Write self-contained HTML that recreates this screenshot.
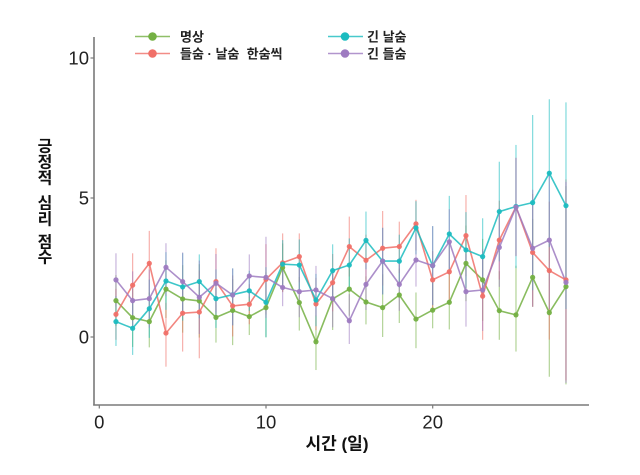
<!DOCTYPE html>
<html><head><meta charset="utf-8">
<style>
html,body{margin:0;padding:0;background:#fff;}
svg{display:block;}
text{font-family:"Liberation Sans","Noto Sans CJK KR",sans-serif;}
.kr{font-family:"Liberation Sans","Noto Sans CJK KR",sans-serif;font-weight:bold;}
</style></head>
<body>
<svg id="s" width="640" height="475" viewBox="0 0 640 475" xmlns="http://www.w3.org/2000/svg">
<rect width="640" height="475" fill="#fff"/>
<!-- axes -->
<line x1="94" y1="37" x2="94" y2="405.5" stroke="#7a7a7a" stroke-width="1.6"/>
<line x1="93.2" y1="405" x2="589" y2="405" stroke="#7a7a7a" stroke-width="1.6"/>
<!-- y ticks -->
<line x1="90.5" y1="58" x2="94" y2="58" stroke="#7a7a7a" stroke-width="1.2"/>
<line x1="90.5" y1="198" x2="94" y2="198" stroke="#7a7a7a" stroke-width="1.2"/>
<line x1="90.5" y1="337" x2="94" y2="337" stroke="#7a7a7a" stroke-width="1.2"/>
<!-- x ticks -->
<line x1="99.3" y1="405" x2="99.3" y2="408.5" stroke="#7a7a7a" stroke-width="1.2"/>
<line x1="266" y1="405" x2="266" y2="408.5" stroke="#7a7a7a" stroke-width="1.2"/>
<line x1="432.7" y1="405" x2="432.7" y2="408.5" stroke="#7a7a7a" stroke-width="1.2"/>
<!-- tick labels -->
<text x="89" y="64.5" font-size="18.5" text-anchor="end" fill="#222">10</text>
<text x="89" y="204.5" font-size="18.5" text-anchor="end" fill="#222">5</text>
<text x="89" y="343.5" font-size="18.5" text-anchor="end" fill="#222">0</text>
<text x="99.3" y="428.5" font-size="18.5" text-anchor="middle" fill="#222">0</text>
<text x="266" y="428.5" font-size="18.5" text-anchor="middle" fill="#222">10</text>
<text x="432.7" y="428.5" font-size="18.5" text-anchor="middle" fill="#222">20</text>
<!-- axis titles -->
<text class="kr" x="337" y="449.5" font-size="17" text-anchor="middle" fill="#111">시간 (일)</text>
<g class="kr" font-size="16" text-anchor="middle" fill="#111">
<text x="45" y="151.5">긍</text>
<text x="45" y="167.5">정</text>
<text x="45" y="183.5">적</text>
<text x="45" y="208.5">심</text>
<text x="45" y="224.5">리</text>
<text x="45" y="247.5">점</text>
<text x="45" y="262.5">수</text>
</g>
<!-- legend -->
<g>
<line x1="135" y1="36.5" x2="170" y2="36.5" stroke="#74b043" stroke-width="1.5" opacity="0.8"/>
<circle cx="152.5" cy="36.5" r="4.3" fill="#74b043"/>
<line x1="135" y1="53.5" x2="170" y2="53.5" stroke="#f07068" stroke-width="1.5" opacity="0.8"/>
<circle cx="152.5" cy="53.5" r="4.3" fill="#f07068"/>
<line x1="328" y1="36.5" x2="363" y2="36.5" stroke="#1bbcc0" stroke-width="1.5" opacity="0.8"/>
<circle cx="345" cy="36.5" r="4.3" fill="#1bbcc0"/>
<line x1="328" y1="53.5" x2="363" y2="53.5" stroke="#9e7bc1" stroke-width="1.5" opacity="0.8"/>
<circle cx="345" cy="53.5" r="4.3" fill="#9e7bc1"/>
<text class="kr" x="180" y="41.5" font-size="13" fill="#222">명상</text>
<text class="kr" x="180" y="58.5" font-size="13" fill="#222">들숨 · 날숨&#160; 한숨씩</text>
<text class="kr" x="367" y="41.5" font-size="13" fill="#222">긴 날숨</text>
<text class="kr" x="367" y="58.5" font-size="13" fill="#222">긴 들숨</text>
</g>
<g id="data"></g>
</svg>
<script>
(function(){
var G=[1.30,0.69,0.55,1.71,1.36,1.29,0.70,0.95,0.73,1.05,2.48,1.23,-0.17,1.36,1.71,1.25,1.05,1.50,0.64,0.96,1.24,2.63,2.04,0.94,0.79,2.13,0.87,1.80];
var R=[0.81,1.85,2.63,0.14,0.85,0.89,1.98,1.11,1.17,2.06,2.65,2.87,1.18,1.94,3.23,2.74,3.17,3.23,4.04,2.04,2.33,3.62,1.46,3.46,4.65,3.02,2.37,2.04];
var T=[0.55,0.31,1.01,2.00,1.79,1.98,1.37,1.51,1.65,1.24,2.60,2.57,1.32,2.37,2.57,3.45,2.71,2.71,3.90,2.55,3.68,3.11,2.87,4.48,4.66,4.80,5.85,4.69];
var P=[2.04,1.30,1.37,2.49,1.98,1.42,1.92,1.50,2.18,2.13,1.77,1.62,1.68,1.37,0.58,1.88,2.71,1.88,2.75,2.55,3.40,1.62,1.68,3.20,4.64,3.17,3.46,1.95];
var TOP=[2.99,2.99,3.79,3.35,3.02,2.95,3.17,2.45,2.95,3.58,3.7,3.7,2.54,3.31,4.3,4.48,4.5,4.12,4.9,3.96,5.04,5.07,4.24,6.26,6.86,7.93,8.49,8.38];
var BOT=[-0.32,-0.64,-0.37,-1.06,-0.52,-0.76,-0.2,-0.29,0.07,-0.01,1.1,0.23,-1.18,0.25,-0.25,0.45,0,0.5,-0.4,0.31,0.27,0.37,-0.1,-0.1,-0.52,1.08,-1.42,-1.69];
var S=[[G,"#74b043"],[R,"#f07068"],[T,"#1bbcc0"],[P,"#9e7bc1"]];
function X(d){return 99.3+16.667*d;}
function Y(v){return 337-28*v;}
var ns="http://www.w3.org/2000/svg",g=document.getElementById("data");
function el(n,a){var e=document.createElementNS(ns,n);for(var k in a)e.setAttribute(k,a[k]);g.appendChild(e);return e;}
var lo=[[],[],[],[]],hi=[[],[],[],[]];
for(var i=0;i<28;i++){
 var vals=S.map(function(s){return s[0][i];});
 var mx=Math.max.apply(null,vals),mn=Math.min.apply(null,vals);
 var ht=TOP[i]-mx,hb=mn-BOT[i],avg=(ht+hb)/2;
 for(var s=0;s<4;s++){
  var v=vals[s],h1=avg,h2=avg;
  if(v===mx){h1=ht;h2=Math.max(ht,avg);}
  if(v===mn){h2=hb;h1=Math.max(hb*0.9,avg);}
  hi[s][i]=Math.min(v+h1,TOP[i]);lo[s][i]=Math.max(v-h2,BOT[i]);
 }
}
for(var s=0;s<4;s++){
 for(var i=0;i<28;i++){
  el("line",{x1:X(i+1),x2:X(i+1),y1:Y(hi[s][i]),y2:Y(lo[s][i]),stroke:S[s][1],"stroke-width":"1.2",opacity:"0.55"});
 }
}
for(var s=0;s<4;s++){
 var pts=[];
 for(var i=0;i<28;i++)pts.push(X(i+1).toFixed(1)+","+Y(S[s][0][i]).toFixed(1));
 el("polyline",{points:pts.join(" "),fill:"none",stroke:S[s][1],"stroke-width":"1.6",opacity:"0.85","stroke-linejoin":"round"});
}
for(var s=0;s<4;s++){
 for(var i=0;i<28;i++)el("circle",{cx:X(i+1),cy:Y(S[s][0][i]),r:"2.6",fill:S[s][1],opacity:"0.95"});
}
})();
</script>
</body></html>
